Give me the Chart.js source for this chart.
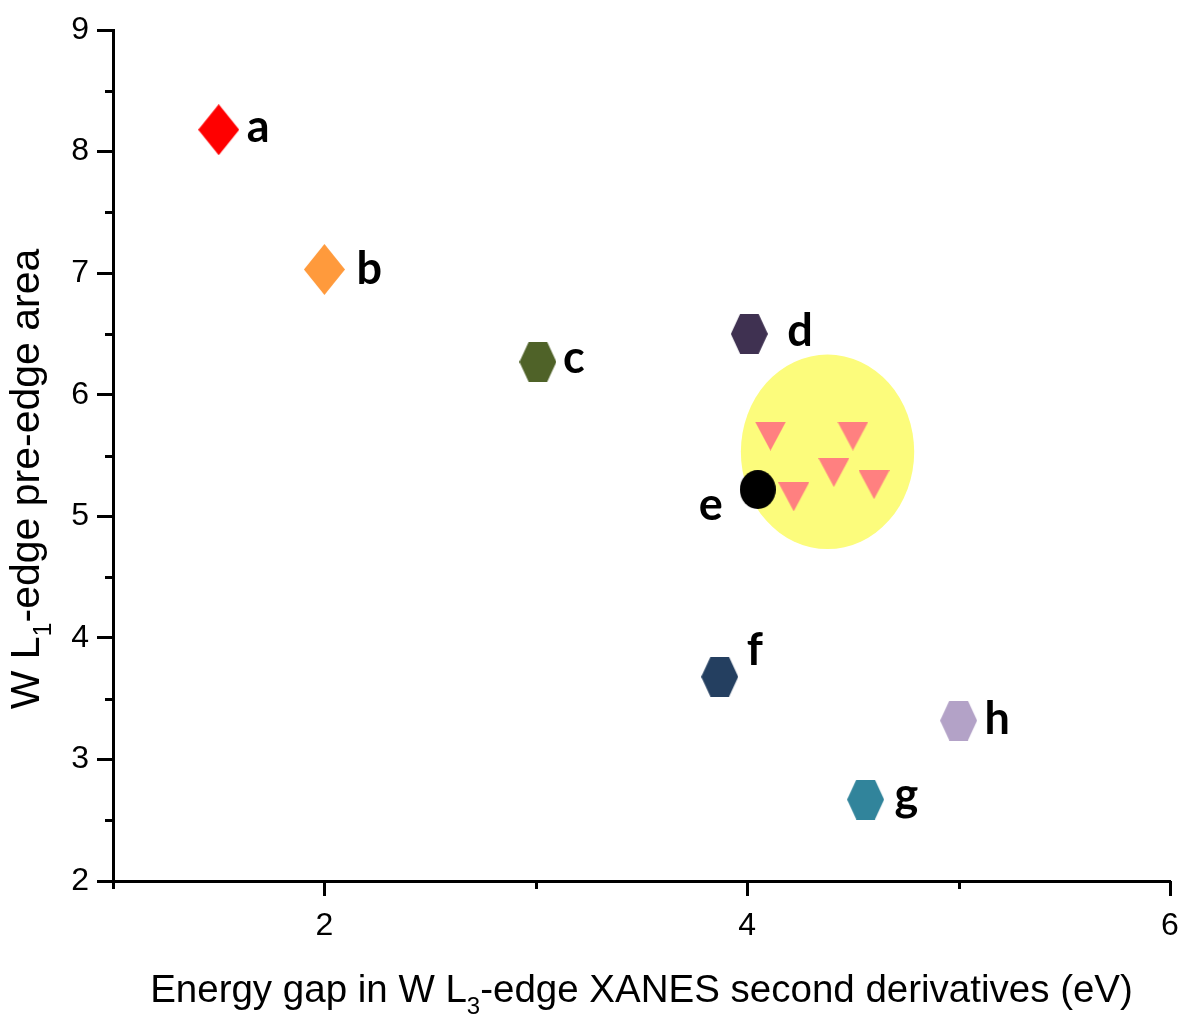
<!DOCTYPE html>
<html>
<head>
<meta charset="utf-8">
<script src="https://cdn.jsdelivr.net/npm/chart.js@4.4.1/dist/chart.umd.min.js"></script>
<style>
  html, body { margin: 0; padding: 0; background: #fff; }
  #wrap { width: 1183px; height: 1017px; }
</style>
</head>
<body>
<div id="wrap"><canvas id="c" width="1183" height="1017"></canvas></div>
<script>
// samples a..h : energy gap (eV) vs pre-edge area
const sampleNames = ['a', 'b', 'c', 'd', 'e', 'f', 'g', 'h'];
const energyGap   = [1.50, 2.00, 3.01, 4.01, 4.05, 3.87, 4.56, 5.00];
const preEdgeArea = [8.18, 7.03, 6.27, 6.50, 5.22, 3.68, 2.67, 3.32];

// reference group (pink triangles)
const refGap  = [4.11, 4.50, 4.41, 4.60, 4.22];
const refArea = [5.66, 5.66, 5.36, 5.26, 5.16];

// highlighted region around the reference group: [cx, cy, rx, ry] in axis units
const groupEllipse = [4.38, 5.53, 0.41, 0.80];

const xTicks = [1, 2, 3, 4, 5, 6];
const yTicks = [2, 3, 4, 5, 6, 7, 8, 9];

// marker look per sample
const markerShape = ['diamond', 'diamond', 'hex', 'hex', 'circle', 'hex', 'hex', 'hex'];
const markerColor = ['#ff0000', '#ff9a3c', '#4f6228', '#3f3151', '#000000', '#243f60', '#31849b', '#b3a2c7'];
// label offset from marker centre, px (text left edge, baseline)
const labelOffset = [[28, 12], [32, 15], [25, 11], [38, 12], [-59, 30], [27, -12], [29, 10], [26, 13]];

function markerCanvas(shape, color, w, h) {
  const cv = document.createElement('canvas');
  cv.width = w; cv.height = h;
  const g = cv.getContext('2d');
  g.fillStyle = color;
  g.beginPath();
  if (shape === 'diamond') {
    g.moveTo(w / 2, 0); g.lineTo(w, h / 2); g.lineTo(w / 2, h); g.lineTo(0, h / 2);
  } else if (shape === 'hex') {
    const q = w * 0.25;
    g.moveTo(0, h / 2); g.lineTo(q, 0); g.lineTo(w - q, 0);
    g.lineTo(w, h / 2); g.lineTo(w - q, h); g.lineTo(q, h);
  } else if (shape === 'tri') {
    g.moveTo(0, 0); g.lineTo(w, 0); g.lineTo(w / 2, h);
  } else {
    g.ellipse(w / 2, h / 2, w / 2, h / 2, 0, 0, Math.PI * 2);
  }
  g.closePath();
  g.fill();
  return cv;
}

const sampleStyles = markerShape.map((s, i) => {
  if (s === 'diamond') return markerCanvas(s, markerColor[i], 41, 51);
  if (s === 'circle') return markerCanvas(s, markerColor[i], 36, 39);
  return markerCanvas(s, markerColor[i], 37, 40);
});
const triStyle = markerCanvas('tri', '#ff8080', 31, 29);

const ellipsePlugin = {
  id: 'groupEllipse',
  beforeDatasetsDraw(chart) {
    const { ctx, scales: { x, y } } = chart;
    const [cx, cy, rx, ry] = groupEllipse;
    const px = x.getPixelForValue(cx), py = y.getPixelForValue(cy);
    const prx = Math.abs(x.getPixelForValue(cx + rx) - px);
    const pry = Math.abs(y.getPixelForValue(cy + ry) - py);
    ctx.save();
    ctx.fillStyle = '#fcfc7c';
    ctx.beginPath();
    ctx.ellipse(px, py, prx, pry, 0, 0, Math.PI * 2);
    ctx.fill();
    ctx.restore();
  }
};

const labelPlugin = {
  id: 'sampleLabels',
  afterDatasetsDraw(chart) {
    const { ctx } = chart;
    const meta = chart.getDatasetMeta(0);
    ctx.save();
    ctx.fillStyle = '#000';
    ctx.font = 'bold 45px Lato';
    ctx.textAlign = 'left';
    ctx.textBaseline = 'alphabetic';
    meta.data.forEach((pt, i) => {
      ctx.fillText(sampleNames[i], pt.x + labelOffset[i][0], pt.y + labelOffset[i][1]);
    });
    ctx.restore();
  }
};

// x tick marks (long at labelled values) and short y minor ticks
const tickMarkPlugin = {
  id: 'tickMarks',
  afterDraw(chart) {
    const { ctx, chartArea, scales: { x, y } } = chart;
    ctx.save();
    ctx.strokeStyle = '#000';
    ctx.lineWidth = 3;
    ctx.beginPath();
    y.ticks.forEach(t => {
      if (Number.isInteger(t.value)) return;
      const py = Math.round(y.getPixelForValue(t.value)) + 0.5;
      ctx.moveTo(chartArea.left - 8, py); ctx.lineTo(chartArea.left, py);
    });
    x.ticks.forEach(t => {
      const len = t.value % 2 === 0 ? 15 : 8;
      const px = Math.round(x.getPixelForValue(t.value)) + 0.5;
      ctx.moveTo(px, chartArea.bottom); ctx.lineTo(px, chartArea.bottom + len);
    });
    ctx.stroke();
    ctx.restore();
  }
};

// axis titles with subscripts
function drawSubTitle(ctx, parts, size) {
  let w = 0;
  parts.forEach(p => {
    ctx.font = (p.sub ? Math.round(size * 0.62) : size) + 'px "Liberation Sans", Arial';
    w += ctx.measureText(p.t).width;
  });
  let cur = -w / 2;
  parts.forEach(p => {
    ctx.font = (p.sub ? Math.round(size * 0.62) : size) + 'px "Liberation Sans", Arial';
    ctx.fillText(p.t, cur, p.sub ? size * 0.3 : 0);
    cur += ctx.measureText(p.t).width;
  });
}

const titlePlugin = {
  id: 'axisTitles',
  afterDraw(chart) {
    const { ctx, chartArea } = chart;
    ctx.save();
    ctx.fillStyle = '#000';
    ctx.textAlign = 'left';
    ctx.textBaseline = 'alphabetic';
    ctx.save();
    ctx.translate((chartArea.left + chartArea.right) / 2, 1002);
    drawSubTitle(ctx, [{ t: 'Energy gap in W L' }, { t: '3', sub: true }, { t: '-edge XANES second derivatives (eV)' }], 38.5);
    ctx.restore();
    ctx.save();
    ctx.translate(39, 479);
    ctx.rotate(-Math.PI / 2);
    drawSubTitle(ctx, [{ t: 'W L' }, { t: '1', sub: true }, { t: '-edge pre-edge area' }], 41);
    ctx.restore();
    ctx.restore();
  }
};

const tickFont = { family: '"Liberation Sans", Arial', size: 32 };

new Chart(document.getElementById('c'), {
  type: 'scatter',
  data: {
    datasets: [
      {
        label: 'samples',
        data: energyGap.map((v, i) => ({ x: v, y: preEdgeArea[i] })),
        pointStyle: sampleStyles,
        pointRadius: 20
      },
      {
        label: 'reference',
        data: refGap.map((v, i) => ({ x: v, y: refArea[i] })),
        pointStyle: triStyle,
        pointRadius: 16
      }
    ]
  },
  options: {
    responsive: false,
    animation: false,
    events: [],
    layout: { autoPadding: false, padding: { top: 30, right: 13, left: 0, bottom: 0 } },
    plugins: { legend: { display: false }, tooltip: { enabled: false } },
    scales: {
      x: {
        type: 'linear',
        min: 1, max: 6,
        afterFit: s => { s.height = 136; },
        afterBuildTicks: s => { s.ticks = xTicks.map(v => ({ value: v })); },
        border: { color: '#000', width: 3 },
        // tick space only; the marks themselves come from tickMarkPlugin
        grid: { drawOnChartArea: false, tickLength: 26, tickColor: 'rgba(0,0,0,0)' },
        ticks: {
          autoSkip: false, maxRotation: 0, padding: 0, color: '#000', font: tickFont,
          callback: v => (v % 2 === 0 ? String(v) : '')
        }
      },
      y: {
        type: 'linear',
        min: 2, max: 9,
        afterFit: s => { s.width = 113; },
        afterBuildTicks: s => {
          const t = [];
          yTicks.forEach((v, i) => { t.push({ value: v }); if (i < yTicks.length - 1) t.push({ value: v + 0.5 }); });
          s.ticks = t;
        },
        border: { color: '#000', width: 3 },
        grid: {
          drawOnChartArea: false, tickLength: 16, tickWidth: 3,
          tickColor: c => (c.tick && Number.isInteger(c.tick.value)) ? '#000' : 'rgba(0,0,0,0)'
        },
        ticks: {
          autoSkip: false, padding: 8, color: '#000', font: tickFont,
          callback: v => (Number.isInteger(v) ? String(v) : '')
        }
      }
    }
  },
  plugins: [ellipsePlugin, labelPlugin, tickMarkPlugin, titlePlugin]
});
</script>
</body>
</html>
